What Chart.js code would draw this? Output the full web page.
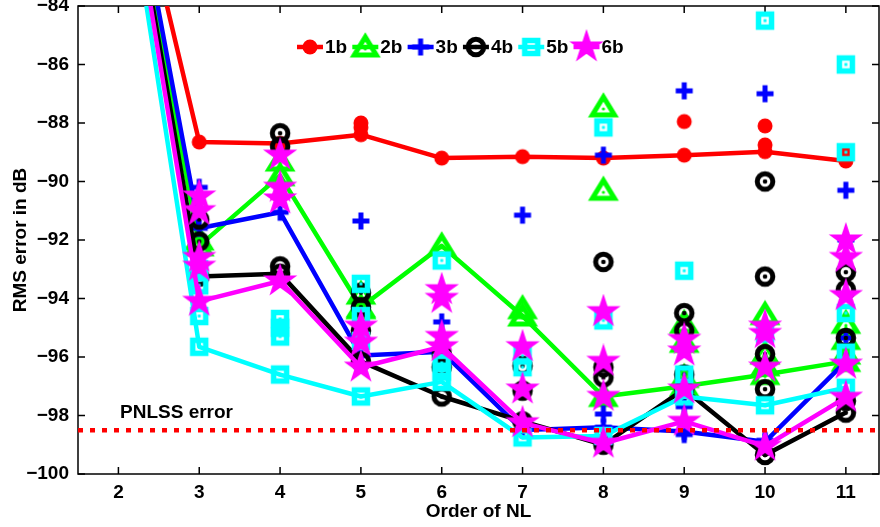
<!DOCTYPE html>
<html>
<head>
<meta charset="utf-8">
<script src="https://cdn.jsdelivr.net/npm/chart.js@4/dist/chart.umd.min.js"></script>
<style>
  html, body { margin: 0; padding: 0; background: #fff; }
  #c { display: block; }
</style>
</head>
<body>
<canvas id="c" width="880" height="527"></canvas>
<script>
// ---------- data ----------
const orders = [2, 3, 4, 5, 6, 7, 8, 9, 10, 11];
const xTickVals = [2, 3, 4, 5, 6, 7, 8, 9, 10, 11];
const yTickVals = [-100, -98, -96, -94, -92, -90, -88, -86, -84];
const seriesNames = ['1b', '2b', '3b', '4b', '5b', '6b'];
const pnlssError = -98.5;

// best model per order (connected lines)
const rms1b = [-77.0, -88.65, -88.7, -88.4, -89.2, -89.15, -89.2, -89.1, -88.98, -89.3];
const rms2b = [-77.5, -92.2, -89.8, -94.3, -92.2, -94.6, -97.35, -97.0, -96.6, -96.15];
const rms3b = [-76.8, -91.6, -91.05, -95.95, -95.82, -98.5, -98.4, -98.55, -98.9, -96.15];
const rms4b = [-77.2, -93.25, -93.15, -96.15, -97.35, -98.2, -99.0, -97.1, -99.35, -97.9];
const rms5b = [-77.8, -95.65, -96.6, -97.35, -96.85, -98.75, -98.7, -97.35, -97.65, -97.05];
const rms6b = [-77.3, -94.1, -93.4, -96.35, -95.65, -98.25, -98.95, -98.2, -99.05, -97.38];

// other runs (unconnected markers) as [order, rms]
const extra1b = [[5, -88.0], [5, -88.15], [9, -87.95], [10, -88.1], [10, -88.75], [11, -89.03]];
const extra2b = [[3, -92.0], [4, -89.3], [5, -93.85], [5, -94.35], [7, -94.35], [8, -87.45], [8, -90.3],
                 [9, -94.85], [9, -95.5], [9, -96.7], [10, -94.55], [10, -95.9], [10, -96.3],
                 [11, -94.85], [11, -95.4], [11, -95.9]];
const extra3b = [[3, -90.2], [5, -91.35], [6, -94.8], [7, -91.15], [8, -89.1], [8, -97.95],
                 [9, -86.9], [9, -97.7], [9, -98.65], [10, -87.0], [10, -98.85],
                 [11, -90.3], [11, -92.0], [11, -95.35]];
const extra4b = [[3, -91.3], [3, -92.05], [4, -88.35], [4, -88.8], [4, -92.9], [5, -93.8], [5, -94.3], [5, -95.1],
                 [6, -95.9], [6, -96.35], [7, -96.3], [7, -97.15], [8, -92.75], [8, -96.35], [8, -96.7],
                 [9, -94.5], [9, -95.1], [9, -96.6], [10, -90.0], [10, -93.25], [10, -95.9], [10, -97.1],
                 [11, -93.1], [11, -93.7], [11, -95.35], [11, -97.5]];
const extra5b = [[3, -93.0], [3, -93.55], [3, -94.6], [4, -94.7], [4, -95.0], [4, -95.3],
                 [5, -93.5], [5, -94.6], [5, -95.45], [6, -92.7], [6, -96.2], [6, -96.5],
                 [7, -95.95], [7, -96.35], [8, -88.15], [8, -94.75], [9, -93.05], [9, -96.6],
                 [10, -84.5], [10, -95.2], [11, -86.0], [11, -89.0], [11, -94.5], [11, -95.85]];
const extra6b = [[3, -90.5], [3, -91.0], [3, -92.6], [3, -92.9], [4, -89.1], [4, -90.2], [4, -90.6],
                 [5, -94.95], [5, -95.5], [6, -93.7], [6, -94.0], [6, -95.3], [7, -95.65], [7, -97.1],
                 [8, -94.45], [8, -96.15], [8, -97.35], [9, -95.4], [9, -95.8], [9, -97.1],
                 [10, -94.95], [10, -95.2], [10, -96.35], [11, -92.0], [11, -92.6], [11, -93.9], [11, -96.25]];

// ---------- styling ----------
const FONT = '"Liberation Sans", Arial, Helvetica, sans-serif';
const colors = ['#ff0000', '#00ff00', '#0000ff', '#000000', '#00ffff', '#ff00ff'];
const markers = ['dot', 'tri', 'plus', 'ring', 'sq', 'star'];

function drawShape(g, type, color, cx, cy) {
  g.fillStyle = color; g.strokeStyle = color;
  g.lineJoin = 'miter'; g.lineCap = 'butt';
  if (type === 'dot') {
    g.beginPath(); g.arc(cx, cy, 7.5, 0, Math.PI * 2); g.fill();
  } else if (type === 'tri') {
    g.lineWidth = 5;
    g.beginPath(); g.moveTo(cx, cy - 10); g.lineTo(cx + 11, cy + 8); g.lineTo(cx - 11, cy + 8); g.closePath(); g.stroke();
    g.beginPath(); g.arc(cx, cy + 2, 1.6, 0, Math.PI * 2); g.fill();
  } else if (type === 'plus') {
    g.lineWidth = 5;
    g.beginPath(); g.moveTo(cx - 8.5, cy); g.lineTo(cx + 8.5, cy); g.moveTo(cx, cy - 8.5); g.lineTo(cx, cy + 8.5); g.stroke();
  } else if (type === 'ring') {
    g.lineWidth = 5;
    g.beginPath(); g.arc(cx, cy, 7.8, 0, Math.PI * 2); g.stroke();
    g.beginPath(); g.arc(cx, cy, 2.3, 0, Math.PI * 2); g.fill();
  } else if (type === 'sq') {
    g.lineWidth = 5.5;
    g.strokeRect(cx - 6.5, cy - 6.5, 13, 13);
    g.fillRect(cx - 1.5, cy - 1.5, 3, 3);
  } else if (type === 'star') {
    const R = 14, r = R * 0.382;
    g.beginPath();
    for (let k = 0; k < 10; k++) {
      const rad = (k % 2 === 0) ? R : r;
      const ang = -Math.PI / 2 + k * Math.PI / 5;
      const px = cx + rad * Math.cos(ang), py = cy + rad * Math.sin(ang);
      if (k === 0) g.moveTo(px, py); else g.lineTo(px, py);
    }
    g.closePath(); g.fill();
    g.lineWidth = 2.5; g.stroke();
  }
}
function markerCanvas(type, color) {
  const c = document.createElement('canvas'); c.width = 36; c.height = 36;
  drawShape(c.getContext('2d'), type, color, 18, 18);
  return c;
}
function legendCanvas(type, color) {
  const c = document.createElement('canvas'); c.width = 36; c.height = 36;
  const g = c.getContext('2d');
  g.strokeStyle = color; g.lineWidth = 4.5;
  g.beginPath(); g.moveTo(5, 18); g.lineTo(31, 18); g.stroke();
  drawShape(g, type, color, 18, 18);
  return c;
}

const mainData = [rms1b, rms2b, rms3b, rms4b, rms5b, rms6b];
const extraData = [extra1b, extra2b, extra3b, extra4b, extra5b, extra6b];

const datasets = [];
datasets.push({
  label: 'PNLSS error',
  data: [{x: 1.5, y: pnlssError}, {x: 11.41, y: pnlssError}],
  showLine: true, borderColor: '#ff0000', borderWidth: 4.5, borderDash: [5, 7],
  pointRadius: 0, order: 0, clip: 0
});
seriesNames.forEach((name, i) => {
  const mk = markerCanvas(markers[i], colors[i]);
  datasets.push({
    label: name,
    data: orders.map((o, k) => ({x: o, y: mainData[i][k]})),
    showLine: true, borderColor: colors[i], backgroundColor: colors[i], borderWidth: 4.5,
    borderJoinStyle: 'round', tension: 0,
    pointStyle: mk, pointRadius: 8, order: 20 - 2 * i, clip: 0
  });
  datasets.push({
    label: name + ' runs',
    data: extraData[i].map(([x, y]) => ({x, y})),
    showLine: false, borderColor: colors[i], backgroundColor: colors[i],
    pointStyle: mk, pointRadius: 8, order: 21 - 2 * i, clip: 0
  });
});

const legendIcons = seriesNames.map((n, i) => legendCanvas(markers[i], colors[i]));

const framePlugin = {
  id: 'frame',
  beforeDatasetsDraw(chart) {
    const {ctx, chartArea: a, scales: {x, y}} = chart;
    ctx.save();
    ctx.strokeStyle = '#000'; ctx.lineWidth = 1.5;
    ctx.strokeRect(a.left, a.top, a.right - a.left, a.bottom - a.top);
    ctx.beginPath();
    xTickVals.forEach(v => {
      const px = x.getPixelForValue(v);
      ctx.moveTo(px, a.bottom); ctx.lineTo(px, a.bottom - 7);
      ctx.moveTo(px, a.top); ctx.lineTo(px, a.top + 7);
    });
    yTickVals.forEach(v => {
      const py = y.getPixelForValue(v);
      ctx.moveTo(a.left, py); ctx.lineTo(a.left + 7, py);
      ctx.moveTo(a.right, py); ctx.lineTo(a.right - 7, py);
    });
    ctx.stroke();
    ctx.restore();
  },
  afterDraw(chart) {
    const {ctx, scales: {x, y}} = chart;
    ctx.save();
    ctx.fillStyle = '#000';
    ctx.font = 'bold 19px ' + FONT;
    ctx.textBaseline = 'middle';
    ctx.textAlign = 'left';
    // PNLSS label
    ctx.fillText('PNLSS error', x.getPixelForValue(2.02), y.getPixelForValue(-97.9));
    // legend
    seriesNames.forEach((name, i) => {
      const cx = 310 + i * 55.3, cy = 47;
      const ic = legendIcons[i];
      ctx.drawImage(ic, cx - ic.width / 2, cy - ic.height / 2);
      ctx.fillText(name, cx + 15, cy + 1);
    });
    ctx.restore();
  }
};

const tickFont = {family: FONT, size: 19, weight: 'bold'};

new Chart(document.getElementById('c'), {
  type: 'scatter',
  data: {datasets},
  options: {
    responsive: false,
    animation: false,
    events: [],
    layout: {autoPadding: false, padding: {left: 0, right: 1, top: 6, bottom: 0}},
    plugins: {legend: {display: false}, tooltip: {enabled: false}},
    scales: {
      x: {
        type: 'linear', min: 1.5, max: 11.41,
        afterBuildTicks: s => { s.ticks = xTickVals.map(v => ({value: v})); },
        afterFit: s => { s.height = 53; s.paddingLeft = 0; s.paddingRight = 0; },
        grid: {display: false, drawTicks: false},
        border: {display: false},
        ticks: {padding: 7, color: '#000', font: tickFont, autoSkip: false, maxRotation: 0},
        title: {display: true, text: 'Order of NL', color: '#000', font: tickFont, padding: {top: 0, bottom: 4}}
      },
      y: {
        type: 'linear', min: -100, max: -84,
        afterBuildTicks: s => { s.ticks = yTickVals.map(v => ({value: v})); },
        afterFit: s => { s.width = 78; s.paddingTop = 0; s.paddingBottom = 0; },
        grid: {display: false, drawTicks: false},
        border: {display: false},
        ticks: {padding: 9, color: '#000', font: tickFont,
                callback: v => (v < 0 ? '\u2212' : '') + Math.abs(v)},
        title: {display: true, text: 'RMS error in dB', color: '#000', font: tickFont, padding: {top: 9, bottom: 0}}
      }
    }
  },
  plugins: [framePlugin]
});
</script>
</body>
</html>
